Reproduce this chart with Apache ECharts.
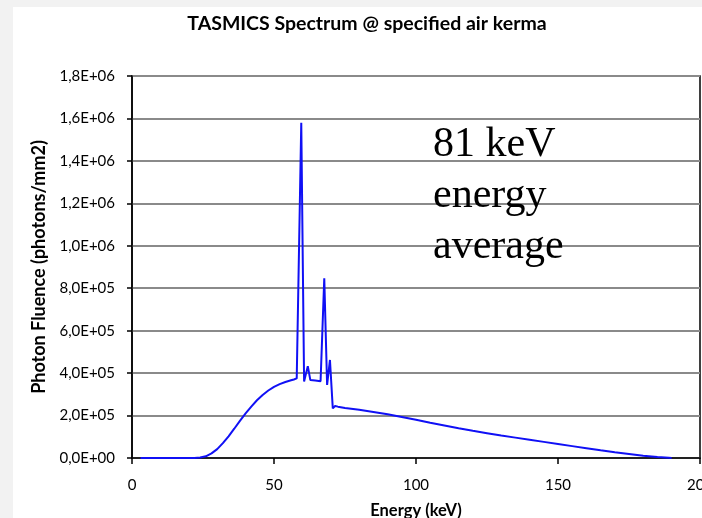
<!DOCTYPE html>
<html>
<head>
<meta charset="utf-8">
<script src="https://cdn.jsdelivr.net/npm/echarts@6/dist/echarts.min.js"></script>
<style>
html,body{margin:0;padding:0;background:#f2f2f2;width:702px;height:518px;overflow:hidden;}
#bg{position:absolute;left:13px;top:7px;width:689px;height:511px;background:#fff;}
#chart{position:absolute;left:0;top:0;width:702px;height:518px;}
</style>
</head>
<body>
<div id="bg"></div>
<div id="chart"></div>
<script>
const titleText = 'TASMICS Spectrum @ specified air kerma';
const xName = 'Energy (keV)';
const yName = 'Photon Fluence (photons/mm2)';
const annotation = '81 keV\nenergy\naverage';
const xTickLabels = ['0', '50', '100', '150', '200'];
const yTickLabels = ['0,0E+00', '2,0E+05', '4,0E+05', '6,0E+05', '8,0E+05', '1,0E+06', '1,2E+06', '1,4E+06', '1,6E+06', '1,8E+06'];

const energy = [3, 22, 24, 26, 28, 30, 32, 34, 36, 38, 40, 42, 44, 46, 48, 50, 52, 54, 56, 57, 58,
  59.6, 60.6, 61.9, 62.8, 64.5, 66.4, 67.7, 68.7, 69.7, 70.7, 71.5, 72.5,
  75, 80, 85, 90, 95, 100, 105, 110, 115, 120, 125, 130, 135, 140, 145, 150, 155, 160, 165, 170, 175, 180, 185, 189, 190];
const fluence = [0, 0, 2000, 8000, 22000, 42000, 70000, 102000, 138000, 175000, 210000, 242000, 272000, 297000, 318000, 335000, 348000, 358000, 366000, 370000, 375000,
  1580000, 360000, 433000, 367000, 365000, 362000, 847000, 344000, 462000, 234000, 245000, 242000,
  236000, 227000, 217000, 206000, 193000, 180000, 166000, 153000, 140000, 128000, 117000, 106000, 96000, 86000, 76000, 66000, 56000, 46000, 36000, 27000, 19000, 11000, 5000, 1000, 0];

const seriesData = energy.map((e, i) => [e, fluence[i]]);

const chart = echarts.init(document.getElementById('chart'), null, {renderer: 'canvas'});
chart.setOption({
  animation: false,
  backgroundColor: 'transparent',
  title: {
    text: titleText,
    left: 362,
    textAlign: 'center',
    top: 9,
    textStyle: {fontFamily: 'Lato', fontWeight: 'bold', fontSize: 19.5, color: '#000'}
  },
  grid: {
    left: 132, right: 2, top: 76, bottom: 60,
    outerBoundsMode: 'none',
    containLabel: false,
    show: true, borderColor: '#000', borderWidth: 1.5, backgroundColor: 'transparent'
  },
  xAxis: {
    type: 'value', min: 0, max: 200, interval: 50,
    name: xName, nameLocation: 'middle', nameGap: 44,
    nameTextStyle: {fontFamily: 'Lato', fontWeight: 'bold', fontSize: 16.5, color: '#000'},
    axisLine: {show: true, lineStyle: {color: '#000', width: 1.5}},
    axisTick: {show: true, inside: false, length: 6, lineStyle: {color: '#000', width: 1.5}},
    axisLabel: {
      margin: 20, fontFamily: 'Lato', fontSize: 15, color: '#000',
      formatter: v => xTickLabels[Math.round(v / 50)]
    },
    splitLine: {show: false}
  },
  yAxis: {
    type: 'value', min: 0, max: 1800000, interval: 200000,
    name: yName, nameLocation: 'middle', nameGap: 80,
    nameTextStyle: {fontFamily: 'Lato', fontWeight: 'bold', fontSize: 18, color: '#000'},
    axisLine: {show: true, lineStyle: {color: '#000', width: 1.5}},
    axisTick: {show: true, inside: false, length: 5, lineStyle: {color: '#000', width: 1.5}},
    axisLabel: {
      margin: 17, fontFamily: 'Lato', fontSize: 15, color: '#000',
      formatter: v => yTickLabels[Math.round(v / 200000)]
    },
    splitLine: {show: true, lineStyle: {color: '#8a8a8a', width: 2}}
  },
  graphic: [{
    type: 'text',
    left: 433,
    top: 119,
    z: 100,
    style: {
      text: annotation,
      font: '42px "Liberation Serif"',
      lineHeight: 51,
      fill: '#000'
    }
  }],
  series: [{
    type: 'line',
    data: seriesData,
    showSymbol: false,
    symbol: 'none',
    lineStyle: {color: '#1010f5', width: 2},
    z: 3
  }]
});
</script>
</body>
</html>
